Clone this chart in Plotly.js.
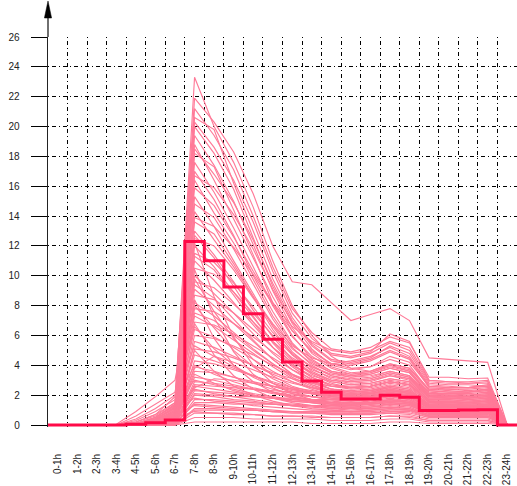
<!DOCTYPE html>
<html>
<head>
<meta charset="utf-8">
<script src="https://cdn.plot.ly/plotly-3.0.1.min.js"></script>
<style>html,body{margin:0;padding:0;background:#fff;}#chart{width:517px;height:486px;}</style>
</head>
<body>
<div id="chart"></div>
<script>
// Hour categories
var hours = ["0-1h","1-2h","2-3h","3-4h","4-5h","5-6h","6-7h","7-8h","8-9h","9-10h","10-11h","11-12h",
             "12-13h","13-14h","14-15h","15-16h","16-17h","17-18h","18-19h","19-20h","20-21h","21-22h","22-23h","23-24h"];

// Average profile (thick step line)
var meanValues = [0,0,0,0,0.05,0.15,0.33,12.3,11.0,9.25,7.45,5.75,4.22,2.95,2.19,1.74,1.74,2.0,1.86,0.98,0.98,1.0,1.02,0];

// Individual profiles (thin lines)
var profilesHigh = [
 [0,0,0,0,0.1,0.4,1.2,23.3,20.0,17.6,14.6,11.0,8.0,6.0,4.6,3.8,3.6,4.0,3.7,2.4,2.3,2.2,2.4,0],
 [0,0,0,0,0.2,0.6,1.5,21.9,20.3,18.3,15.5,12.0,9.6,9.4,8.2,7.0,7.4,7.8,7.0,4.5,4.4,4.3,4.2,0],
 [0,0,0,0,0,0.2,0.7,21.2,19.4,17.1,14.0,10.6,7.8,6.2,5.1,4.9,5.2,5.9,5.5,3.2,3.2,3.1,3.15,0],
 [0,0,0,0,0.1,0.3,0.9,20.6,19.8,16.2,13.0,9.8,7.2,5.4,4.4,4.2,4.5,5.3,4.8,2.8,2.7,2.7,2.6,0],
 [0,0,0,0,0,0.1,0.5,20.0,18.2,15.8,12.6,9.3,6.8,5.1,4.0,3.7,3.9,4.6,4.2,2.6,2.5,2.5,2.6,0],
 [0,0,0,0,0.1,0.5,1.4,19.4,17.4,15.0,12.1,9.0,6.5,4.8,3.9,3.5,3.6,4.1,3.8,2.4,2.4,2.3,2.4,0],
 [0,0,0,0,0,0.2,0.8,18.8,16.4,13.8,11.2,8.6,6.3,4.9,4.1,4.0,4.3,4.9,4.4,2.5,2.4,2.4,2.5,0],
 [0,0,0,0,0,0.1,0.6,18.2,17.3,14.4,11.4,8.2,6.0,4.4,3.6,3.3,3.4,3.8,3.5,2.1,2.1,2.0,2.1,0],
 [0,0,0,0,0.1,0.4,1.1,17.6,15.6,13.2,10.6,8.0,5.9,4.6,3.8,3.4,3.5,3.9,3.6,2.2,2.1,2.1,2.2,0],
 [0,0,0,0,0,0.2,0.7,17.0,15.1,12.7,10.0,7.6,5.5,4.2,3.5,3.2,3.3,3.6,3.3,2.0,1.9,1.9,2.0,0],
 [0,0,0,0,0,0.1,0.4,16.4,14.2,12.2,9.7,7.3,5.4,4.3,3.6,3.4,3.6,4.1,3.8,2.3,2.2,2.2,2.3,0],
 [0,0,0,0,0.1,0.3,1.0,15.9,14.7,12.6,10.3,8.2,6.6,5.6,5.0,4.8,5.0,5.6,5.2,3.0,2.9,2.8,2.9,0],
 [0,0,0,0,0,0.2,0.6,15.3,13.3,11.0,8.8,6.6,4.9,3.8,3.1,2.9,3.0,3.4,3.1,1.9,1.8,1.8,1.9,0],
 [0,0,0,0,0,0.1,0.3,14.8,13.9,11.8,9.4,7.1,5.2,4.0,3.3,3.0,3.1,3.5,3.2,2.0,2.0,1.9,2.0,0],
 [0,0,0,0,0.1,0.4,1.2,14.3,12.4,10.6,8.6,6.8,5.3,4.5,4.1,4.3,4.6,5.2,4.6,2.7,2.6,2.5,2.6,0],
 [0,0,0,0,0,0.1,0.5,18.5,16.8,14.9,12.4,9.5,7.0,5.3,4.3,4.1,4.4,5.0,4.5,2.6,2.5,2.5,2.7,0],
 [0,0,0,0,0,0.3,0.9,16.7,15.9,14.1,11.8,9.1,6.9,5.5,4.7,4.5,4.8,5.5,5.0,2.9,2.8,2.8,2.8,0],
 [0,0,0,0,0.2,0.7,1.9,20.3,18.6,16.4,13.6,10.3,7.5,5.8,4.8,4.6,4.9,6.1,5.6,3.0,2.9,2.9,3.0,0]
];
var profilesMid = [
 [0,0,0,0,0,0.2,0.8,13.6,12.8,10.8,8.6,6.4,4.7,3.6,3.0,2.8,2.9,3.3,3.0,1.8,1.8,1.7,1.8,0],
 [0,0,0,0,0,0.1,0.4,13.0,11.4,9.6,7.7,5.9,4.4,3.5,2.9,2.7,2.8,3.1,2.9,1.7,1.7,1.6,1.7,0],
 [0,0,0,0,0.1,0.5,1.3,12.5,12.0,10.4,8.5,6.7,5.1,4.1,3.5,3.3,3.5,4.0,3.6,2.1,2.0,2.0,2.1,0],
 [0,0,0,0,0,0.2,0.6,12.0,10.6,8.9,7.2,5.6,4.3,3.4,2.8,2.5,2.6,2.9,2.7,1.6,1.6,1.5,1.6,0],
 [0,0,0,0,0,0.1,0.3,11.5,10.9,9.5,7.9,6.2,4.8,3.9,3.3,3.1,3.2,3.6,3.3,1.9,1.9,1.8,1.9,0],
 [0,0,0,0,0.1,0.3,1.0,11.0,9.7,8.2,6.7,5.2,4.0,3.2,2.7,2.5,2.6,2.9,2.7,1.6,1.5,1.5,1.6,0],
 [0,0,0,0,0,0.2,0.5,10.5,10.1,8.9,7.5,6.0,4.7,3.9,3.4,3.2,3.4,3.8,3.5,2.0,2.0,1.9,2.0,0],
 [0,0,0,0,0,0.1,0.4,10.0,8.8,7.5,6.1,4.8,3.7,2.9,2.4,2.2,2.3,2.6,2.4,1.4,1.4,1.3,1.4,0],
 [0,0,0,0,0.1,0.4,1.1,9.6,9.2,8.1,6.9,5.6,4.5,3.7,3.2,3.0,3.1,3.5,3.2,1.9,1.8,1.8,1.9,0],
 [0,0,0,0,0,0.2,0.7,9.1,8.0,6.8,5.6,4.4,3.4,2.7,2.2,2.0,2.1,2.4,2.2,1.3,1.3,1.2,1.3,0],
 [0,0,0,0,0,0.1,0.3,8.7,8.4,7.5,6.4,5.2,4.2,3.5,3.0,2.9,3.0,3.3,3.1,1.8,1.8,1.7,1.8,0],
 [0,0,0,0,0.1,0.3,0.9,8.2,7.3,6.2,5.1,4.1,3.2,2.6,2.2,2.0,2.1,2.3,2.1,1.3,1.2,1.2,1.3,0],
 [0,0,0,0,0,0.2,0.6,7.8,7.6,6.8,5.9,4.9,4.0,3.3,2.9,2.7,2.8,3.1,2.9,1.7,1.7,1.6,1.7,0],
 [0,0,0,0,0,0.1,0.4,7.3,6.6,5.7,4.8,3.9,3.1,2.5,2.1,1.9,2.0,2.2,2.0,1.2,1.2,1.1,1.2,0],
 [0,0,0,0,0.1,0.5,1.4,6.9,6.7,6.1,5.3,4.5,3.7,3.1,2.7,2.6,2.7,3.0,2.8,1.6,1.6,1.5,1.6,0],
 [0,0,0,0,0,0.2,0.7,6.4,5.9,5.2,4.4,3.6,2.9,2.4,2.0,1.9,1.9,2.1,2.0,1.2,1.1,1.1,1.2,0],
 [0,0,0,0,0,0.1,0.3,6.0,5.8,5.3,4.7,4.0,3.4,2.9,2.6,2.5,2.6,2.9,2.7,1.6,1.5,1.5,1.6,0],
 [0,0,0,0,0,0.3,0.8,13.9,13.3,11.9,10.1,8.1,6.3,5.0,4.1,3.8,3.9,4.4,4.0,2.3,2.2,2.2,2.3,0],
 [0,0,0,0,0.1,0.2,0.5,12.7,11.2,9.3,7.3,5.5,4.1,3.2,2.6,2.4,2.5,2.8,2.6,1.5,1.5,1.4,1.5,0],
 [0,0,0,0,0,0.1,0.6,11.3,10.4,8.7,6.9,5.2,3.9,3.0,2.4,2.2,2.3,2.6,2.4,1.4,1.4,1.4,1.4,0],
 [0,0,0,0,0,0.2,0.4,9.4,8.5,7.1,5.7,4.4,3.4,2.7,2.3,2.1,2.2,2.5,2.3,1.3,1.3,1.3,1.3,0],
 [0,0,0,0,0.1,0.3,1.2,7.5,7.0,6.0,5.0,4.1,3.3,2.8,2.4,2.3,2.4,2.7,2.5,1.5,1.4,1.4,1.5,0]
];
var profilesLow = [
 [0,0,0,0,0,0.1,0.3,5.6,5.2,4.6,4.0,3.4,2.9,2.5,2.2,2.1,2.2,2.4,2.2,1.3,1.3,1.3,1.3,0],
 [0,0,0,0,0,0.1,0.2,5.1,4.9,4.5,4.0,3.5,3.1,2.8,2.6,2.5,2.6,2.9,2.7,1.6,1.6,1.5,1.6,0],
 [0,0,0,0,0,0.2,0.5,4.7,4.3,3.8,3.3,2.8,2.4,2.1,1.9,1.8,1.9,2.1,1.9,1.1,1.1,1.1,1.1,0],
 [0,0,0,0,0,0,0.1,4.3,4.1,3.7,3.3,2.9,2.5,2.3,2.1,2.0,2.1,2.3,2.1,1.3,1.2,1.2,1.3,0],
 [0,0,0,0,0,0.1,0.4,3.9,3.6,3.2,2.8,2.4,2.1,1.9,1.7,1.6,1.7,1.9,1.7,1.0,1.0,1.0,1.0,0],
 [0,0,0,0,0,0,0.2,3.6,3.5,3.2,2.9,2.6,2.3,2.1,2.0,1.9,2.0,2.2,2.0,1.2,1.2,1.1,1.2,0],
 [0,0,0,0,0,0.1,0.3,3.2,3.0,2.7,2.4,2.1,1.9,1.7,1.6,1.5,1.6,1.8,1.6,1.0,0.9,0.9,1.0,0],
 [0,0,0,0,0,0,0.1,2.9,2.8,2.6,2.4,2.2,2.0,1.9,1.8,1.7,1.8,2.0,1.9,1.1,1.1,1.1,1.1,0],
 [0,0,0,0,0,0.1,0.2,2.6,2.4,2.2,2.0,1.8,1.6,1.5,1.4,1.3,1.4,1.5,1.4,0.8,0.8,0.8,0.8,0],
 [0,0,0,0,0,0,0.1,2.3,2.2,2.1,1.9,1.8,1.7,1.6,1.5,1.5,1.5,1.7,1.6,0.9,0.9,0.9,0.9,0],
 [0,0,0,0,0,0,0.1,2.0,1.9,1.7,1.6,1.4,1.3,1.2,1.1,1.1,1.1,1.2,1.1,0.7,0.7,0.6,0.7,0],
 [0,0,0,0,0,0,0,1.7,1.7,1.6,1.5,1.4,1.3,1.3,1.2,1.2,1.2,1.4,1.3,0.8,0.7,0.7,0.8,0],
 [0,0,0,0,0,0,0.1,1.4,1.3,1.2,1.1,1.0,0.9,0.9,0.8,0.8,0.8,0.9,0.9,0.5,0.5,0.5,0.5,0],
 [0,0,0,0,0,0,0,1.1,1.1,1.0,1.0,0.9,0.9,0.8,0.8,0.8,0.8,0.9,0.8,0.5,0.5,0.5,0.5,0],
 [0,0,0,0,0,0,0,0.8,0.8,0.7,0.7,0.6,0.6,0.6,0.5,0.5,0.5,0.6,0.6,0.3,0.3,0.3,0.3,0],
 [0,0,0,0,0,0,0,0.5,0.5,0.5,0.4,0.4,0.4,0.4,0.3,0.3,0.3,0.4,0.4,0.2,0.2,0.2,0.2,0],
 [0,0,0,0,0,0,0,0.2,0.2,0.2,0.2,0.2,0.2,0.1,0.1,0.1,0.1,0.2,0.2,0.1,0.1,0.1,0.1,0],
 [0,0,0,0,0,0.1,0.4,3.8,4.6,4.2,3.7,3.2,2.8,2.5,2.3,2.2,2.3,2.5,2.3,1.4,1.4,1.3,1.4,0],
 [0,0,0,0,0,0,0.2,2.5,3.1,3.0,2.8,2.6,2.4,2.2,2.1,2.0,2.1,2.3,2.1,1.3,1.3,1.2,1.3,0]
];
var profilesEarly = [
 [0,0,0,0.05,0.9,1.9,3.0,9.8,7.6,5.8,4.4,3.3,2.6,2.2,1.9,1.8,1.9,2.1,1.9,1.1,1.1,1.1,1.1,0],
 [0,0,0,0,0.6,1.4,2.2,8.0,6.5,5.0,3.9,3.1,2.5,2.1,1.8,1.7,1.8,2.0,1.8,1.0,1.0,1.0,1.0,0],
 [0,0,0,0,0.4,1.1,2.0,6.6,5.1,4.0,3.2,2.6,2.2,1.9,1.7,1.6,1.7,1.9,1.7,1.0,1.0,0.9,1.0,0],
 [0,0,0,0,0.3,0.9,1.7,5.3,4.6,3.9,3.3,2.8,2.4,2.1,1.9,1.8,1.9,2.1,2.0,1.2,1.2,1.1,1.2,0],
 [0,0,0,0,0.2,0.7,1.5,4.0,3.4,2.9,2.5,2.2,1.9,1.7,1.5,1.4,1.5,1.7,1.5,0.9,0.9,0.8,0.9,0],
 [0,0,0,0,0.1,0.5,1.3,3.0,2.7,2.4,2.1,1.9,1.7,1.6,1.5,1.4,1.5,1.6,1.5,0.9,0.9,0.8,0.9,0],
 [0,0,0,0,0.1,0.4,1.1,2.4,2.1,1.9,1.7,1.5,1.4,1.3,1.2,1.2,1.2,1.3,1.2,0.7,0.7,0.7,0.7,0],
 [0,0,0,0,0,0.3,0.9,1.8,1.6,1.5,1.3,1.2,1.1,1.0,1.0,0.9,1.0,1.1,1.0,0.6,0.6,0.6,0.6,0],
 [0,0,0,0,0,0.2,0.7,1.3,1.2,1.1,1.0,0.9,0.8,0.8,0.7,0.7,0.7,0.8,0.7,0.4,0.4,0.4,0.4,0],
 [0,0,0,0,0,0.1,0.5,0.9,0.8,0.8,0.7,0.6,0.6,0.5,0.5,0.5,0.5,0.6,0.5,0.3,0.3,0.3,0.3,0],
 [0,0,0,0,0,0.1,0.2,12.2,8.6,5.9,4.0,2.8,2.1,1.7,1.5,1.4,1.5,1.7,1.5,0.9,0.9,0.9,0.9,0],
 [0,0,0,0,0,0,0.2,10.4,7.2,4.9,3.4,2.5,1.9,1.6,1.4,1.3,1.4,1.5,1.4,0.8,0.8,0.8,0.8,0],
 [0,0,0,0,0,0,0.1,8.4,5.8,4.0,2.9,2.2,1.8,1.5,1.3,1.2,1.3,1.4,1.3,0.8,0.7,0.7,0.8,0],
 [0,0,0,0,0,0,0.1,6.8,4.7,3.3,2.4,1.8,1.5,1.3,1.1,1.0,1.1,1.2,1.1,0.6,0.6,0.6,0.6,0],
 [0,0,0,0,0,0,0,5.0,3.6,2.6,2.0,1.6,1.3,1.1,1.0,0.9,1.0,1.1,1.0,0.6,0.6,0.6,0.6,0],
 [0,0,0,0,0,0.1,0.3,3.4,2.8,2.3,2.0,1.8,1.6,1.5,1.4,1.4,1.4,1.6,1.5,0.9,0.8,0.8,0.9,0],
 [0,0,0,0,0,0,0.2,2.7,2.6,2.5,2.4,2.3,2.2,2.1,2.0,2.0,2.1,2.3,2.2,1.3,1.3,1.3,1.3,0],
 [0,0,0,0,0,0,0.1,2.1,2.0,1.9,1.9,1.8,1.8,1.7,1.7,1.7,1.8,2.0,1.9,1.2,1.2,1.1,1.2,0],
 [0,0,0,0,0,0,0,1.5,1.5,1.4,1.4,1.4,1.3,1.3,1.3,1.3,1.4,1.5,1.4,0.9,0.8,0.8,0.9,0],
 [0,0,0,0,0,0,0,1.0,1.0,1.0,1.0,0.9,0.9,0.9,0.9,0.9,0.9,1.0,1.0,0.6,0.6,0.6,0.6,0]
];

var yTicks = [0,2,4,6,8,10,12,14,16,18,20,22,24,26];

// ---- build traces ----
var centers = hours.map(function(h, i){ return i + 0.5; });
var allProfiles = profilesHigh.concat(profilesMid, profilesLow, profilesEarly);
var traces = allProfiles.map(function(p){
  return {x: centers, y: p, type: 'scatter', mode: 'lines',
          line: {color: 'rgb(255,122,152)', width: 1.15}, hoverinfo: 'skip'};
});
var edges = hours.map(function(h, i){ return i; }).concat([hours.length]);
var stepY = meanValues.concat([meanValues[meanValues.length - 1]]);
traces.push({x: edges, y: stepY, type: 'scatter', mode: 'lines',
             line: {color: 'rgb(255,10,72)', width: 3, shape: 'hv'}, hoverinfo: 'skip'});

var gridDash = '1px,3px,4px,3px';
var plotH = 486 - 37 - 59;
function py(pix){ return (427 - pix) / plotH; }
var hw = 3.6 / 469;

var layout = {
  width: 517, height: 486,
  margin: {l: 48, r: 0, t: 37, b: 59},
  paper_bgcolor: '#fff', plot_bgcolor: '#fff',
  showlegend: false,
  font: {family: 'Liberation Sans, Arial, sans-serif', size: 10, color: '#222'},
  xaxis: {
    range: [0, 24], tickmode: 'array', tickvals: centers, ticktext: hours,
    tickangle: -90, ticks: '', showgrid: false, zeroline: false, showline: false,
    ticklabelstandoff: 24,
    tickfont: {size: 10, color: '#222'},
    minor: {tickmode: 'linear', tick0: 0, dtick: 1, showgrid: true, gridcolor: '#000',
            gridwidth: 1, griddash: gridDash, ticks: ''}
  },
  yaxis: {
    range: [-0.134, 26], tickmode: 'array', tickvals: yTicks,
    ticks: 'outside', ticklen: 16, tickcolor: '#000', tickwidth: 1,
    ticklabelstandoff: 9,
    showgrid: true, gridcolor: '#000', gridwidth: 1, griddash: gridDash,
    zeroline: false, showline: true, linecolor: '#222', linewidth: 1.3,
    tickfont: {size: 10, color: '#222'}
  },
  shapes: [
    {type: 'line', xref: 'paper', yref: 'paper', x0: 0, x1: 0, y0: 1, y1: py(16),
     line: {color: '#222', width: 1.3}},
    {type: 'path', xref: 'paper', yref: 'paper',
     path: 'M 0 ' + py(1) + ' L ' + hw + ' ' + py(18) + ' L ' + (-hw) + ' ' + py(18) + ' Z',
     fillcolor: '#000', line: {color: '#000', width: 0.5}}
  ]
};

Plotly.newPlot('chart', traces, layout, {staticPlot: true, displayModeBar: false});
</script>
</body>
</html>
